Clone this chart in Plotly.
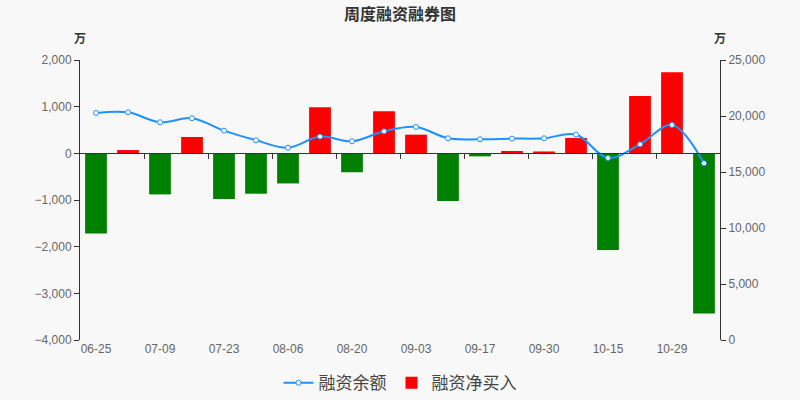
import plotly.graph_objects as go

# weekly dates, net financing buy (万) and financing balance (万)
dates = ['06-25', '07-02', '07-09', '07-16', '07-23', '07-30', '08-06', '08-13', '08-20', '08-27',
         '09-03', '09-10', '09-17', '09-24', '09-30', '10-08', '10-15', '10-22', '10-29', '11-05']
net_buy = [-1720, 70, -880, 350, -980, -865, -645, 990, -405, 900,
           400, -1020, -65, 50, 40, 330, -2070, 1230, 1740, -3430]
balance = [20270, 20330, 19440, 19800, 18690, 17830, 17170, 18160, 17740, 18630,
           19020, 18010, 17920, 17980, 18010, 18340, 16250, 17470, 19200, 15780]

idx = list(range(len(dates)))
pos_vals = [v if v >= 0 else None for v in net_buy]
neg_vals = [v if v < 0 else None for v in net_buy]

font_family = 'Liberation Sans, Noto Sans CJK SC, sans-serif'
axis_color = '#333333'
label_color = '#666666'


def build_figure():
    traces = [
        go.Bar(x=idx, y=pos_vals, name='融资净买入',
               marker=dict(color='#ff0000', line=dict(width=0)), width=0.68, legendrank=2),
        # negative bars sit on the zero-line axis so that axis gets drawn
        go.Bar(x=idx, y=neg_vals, xaxis='x2', name='融资净买入(负)',
               marker=dict(color='#008000', line=dict(width=0)), width=0.68, showlegend=False),
        go.Scatter(x=idx, y=balance, name='融资余额', xaxis='x2', yaxis='y2', mode='lines+markers',
                   line=dict(color='#1e90ff', width=2, shape='spline', smoothing=1.0),
                   marker=dict(size=5, color='white', line=dict(color='#1e90ff', width=1)),
                   legendrank=1),
    ]

    layout = dict(
        width=800, height=400,
        paper_bgcolor='#f8f8f8', plot_bgcolor='#f8f8f8',
        margin=dict(l=80, r=80, t=60, b=60, autoexpand=False),
        font=dict(family=font_family, size=12, color=label_color),
        title=dict(text='<b>周度融资融券图</b>', x=0.5, xanchor='center', y=0.965, yanchor='middle',
                   font=dict(family='Noto Sans CJK SC', size=16, color='#333333')),
        barmode='overlay',
        showlegend=True,
        legend=dict(orientation='h', x=0.5, xanchor='center', y=-0.09, yanchor='top',
                    font=dict(family='Noto Sans CJK SC', size=17, color='#444444'),
                    bgcolor='rgba(0,0,0,0)', traceorder='normal', itemwidth=30),
        xaxis=dict(range=[-0.5, len(dates) - 0.5], tickvals=idx[::2], ticktext=dates[::2],
                   showline=False, showgrid=False, zeroline=False, ticks='',
                   tickfont=dict(size=12, color=label_color)),
        xaxis2=dict(overlaying='x', anchor='free', position=2 / 3, range=[-0.5, len(dates) - 0.5],
                    tickvals=[i + 0.5 for i in idx[1:-1:2]], showticklabels=False,
                    showline=True, linecolor=axis_color, linewidth=1,
                    ticks='outside', ticklen=5, tickcolor=axis_color, showgrid=False, zeroline=False),
        yaxis=dict(range=[-4000, 2000], dtick=1000, tickformat=',', showgrid=False,
                   zeroline=False, showline=True, linecolor=axis_color, linewidth=1,
                   ticks='outside', ticklen=5, tickcolor=axis_color,
                   tickfont=dict(size=12, color=label_color)),
        yaxis2=dict(range=[0, 25000], dtick=5000, tickformat=',', overlaying='y', side='right',
                    anchor='x', showgrid=False, zeroline=False, showline=True,
                    linecolor=axis_color, linewidth=1,
                    ticks='outside', ticklen=5, tickcolor=axis_color,
                    tickfont=dict(size=12, color=label_color)),
        annotations=[
            dict(text='<b>万</b>', xref='paper', yref='paper', x=0, y=1.08, showarrow=False,
                 font=dict(family='Noto Sans CJK SC', size=12, color='#333333'),
                 xanchor='center', yanchor='middle'),
            dict(text='<b>万</b>', xref='paper', yref='paper', x=1, y=1.08, showarrow=False,
                 font=dict(family='Noto Sans CJK SC', size=12, color='#333333'),
                 xanchor='center', yanchor='middle'),
        ],
    )
    fig = go.Figure(data=traces, layout=layout)
    fig.write_html('out.html', config={'displayModeBar': False},
                   post_script="document.body.style.margin = '0';")


if __name__ == "__main__":
    build_figure()
